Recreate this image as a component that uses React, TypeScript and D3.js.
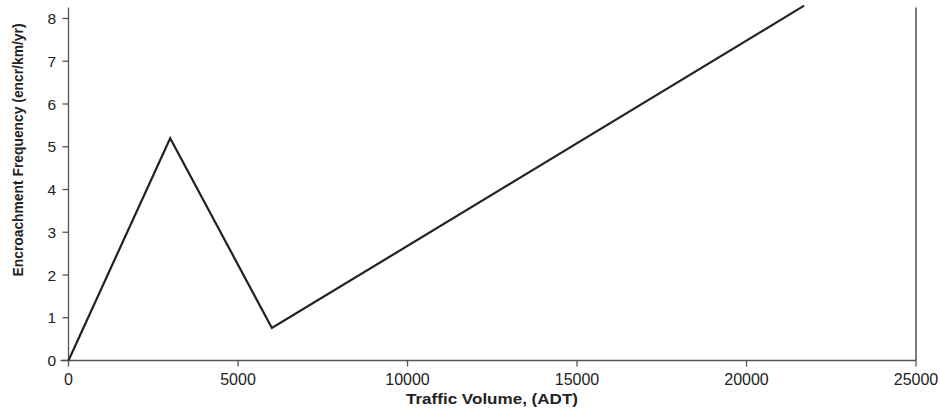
import React from "react";
import * as d3 from "d3";

const adt: number[] = [0, 3000, 6000, 21700];
const freq: number[] = [0, 5.2, 0.76, 8.3];
const xTicks: number[] = [0, 5000, 10000, 15000, 20000, 25000];
const yTicks: number[] = [0, 1, 2, 3, 4, 5, 6, 7, 8];
const xTitle = "Traffic Volume, (ADT)";
const yTitle = "Encroachment Frequency (encr/km/yr)";

export default function App() {
  const W = 940, H = 409;
  const x = d3.scaleLinear().domain([0, 25000]).range([68.5, 916]);
  const y = d3.scaleLinear().domain([0, 8]).range([360.5, 18.5]);
  const yTop = 7.5;
  const line = d3.line<number>().x((_, i) => x(adt[i])).y((d) => y(d));
  const font = "'Liberation Sans', Arial, sans-serif";
  const axisColor = "#555";
  return (
    <svg width={W} height={H} style={{ position: "absolute", left: 0, top: 0, background: "#fff" }} fontFamily={font}>
      <line x1={x(0)} x2={x(0)} y1={yTop} y2={y(0)} stroke={axisColor} strokeWidth={1.3} />
      <line x1={60.5} x2={x(25000)} y1={y(0)} y2={y(0)} stroke={axisColor} strokeWidth={1.3} />
      <line x1={x(25000)} x2={x(25000)} y1={yTop} y2={y(0)} stroke="#333" strokeWidth={1.3} />
      {yTicks.map((t) => (
        <g key={"y" + t}>
          <line x1={x(0) - 6} x2={x(0)} y1={y(t)} y2={y(t)} stroke={axisColor} strokeWidth={1.3} />
          <text x={56} y={y(t)} dy="0.36em" textAnchor="end" fontSize={15.5} fill="#222">{t}</text>
        </g>
      ))}
      {xTicks.map((t) => (
        <g key={"x" + t}>
          <line x1={x(t)} x2={x(t)} y1={y(0)} y2={y(0) + 6} stroke={axisColor} strokeWidth={1.3} />
          <text x={x(t)} y={384.5} textAnchor="middle" fontSize={16} fill="#222">{t}</text>
        </g>
      ))}
      <path d={line(freq) || ""} fill="none" stroke="#222" strokeWidth={2.2} strokeLinejoin="miter" />
      <text x={492} y={404} textAnchor="middle" fontSize={15.5} fontWeight="bold" fill="#222"
        textLength={172} lengthAdjust="spacingAndGlyphs">{xTitle}</text>
      <text transform={`translate(23,${150}) rotate(-90)`} textAnchor="middle" fontSize={14} fontWeight="bold" fill="#222"
        textLength={253} lengthAdjust="spacingAndGlyphs">{yTitle}</text>
    </svg>
  );
}
